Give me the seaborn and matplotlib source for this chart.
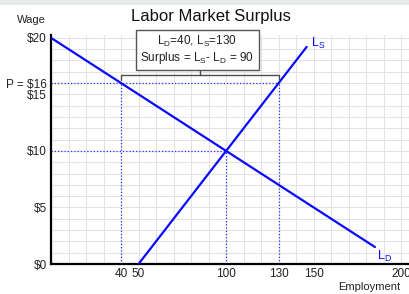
import numpy as np
import pandas as pd
import matplotlib
matplotlib.use("Agg")
import matplotlib.pyplot as plt
from matplotlib.patches import Rectangle
import seaborn as sns

# ================= DATA =================
demand_L = [0, 40, 100, 130, 185]
demand_W = [20, 16, 10, 7, 1.5]
supply_L = [50, 100, 130, 146]
supply_W = [0, 10, 16, 19.2]

price = 16
eq_L, eq_W = 100, 10
qd, qs = 40, 130

xticks = [40, 50, 100, 130, 150, 200]
yticks = [0, 5, 10, 15, 16, 20]
ylabels = [r"\$0", r"\$5", r"\$10", r"\$15", r"P = \$16", r"\$20"]

# ================= STYLE =================
sns.set_theme(style="white")
plt.rcParams["font.family"] = ["Liberation Sans", "DejaVu Sans"]
plt.rcParams["mathtext.default"] = "regular"

BLUE = "#0a0aff"
GRID = "#e3e3e3"

fig = plt.figure(figsize=(4.10, 2.94), dpi=100)
fig.patch.set_facecolor("white")
fig.patches.append(Rectangle((0, 1 - 5 / 294), 1, 5 / 294, transform=fig.transFigure,
                             facecolor="#e6ebe8", edgecolor="none", zorder=0))
ax = fig.add_axes([51 / 410, 30 / 294, 359 / 410, 229 / 294])

# grid
for x in range(10, 210, 10):
    ax.axvline(x, color=GRID, lw=0.8, zorder=0)
for y in range(1, 21):
    ax.axhline(y, color=GRID, lw=0.8, zorder=0)

# dotted guides
dot = dict(ls=(0, (1, 1.6)), color="#3030ff", lw=0.9, zorder=2)
ax.plot([0, qs], [price, price], **dot)
ax.plot([qd, qd], [0, price], **dot)
ax.plot([qs, qs], [0, price], **dot)
ax.plot([0, eq_L], [eq_W, eq_W], **dot)
ax.plot([eq_L, eq_L], [0, eq_W], **dot)

# curves
demand = pd.DataFrame({"L": demand_L, "W": demand_W})
supply = pd.DataFrame({"L": supply_L, "W": supply_W})
sns.lineplot(data=demand, x="L", y="W", color=BLUE, lw=1.6, ax=ax, zorder=3)
sns.lineplot(data=supply, x="L", y="W", color=BLUE, lw=1.6, ax=ax, zorder=3)

ax.text(148.5, 19.5, "$L_S$", color=BLUE, fontsize=9, ha="left", va="center")
ax.text(186, 0.7, "$L_D$", color=BLUE, fontsize=9, ha="left", va="center")

# bracket + box
bc = "#4d4d4d"
yb = 16.7
ax.plot([qd, qd, qs, qs], [16.25, yb, yb, 16.25], color=bc, lw=1, zorder=4, clip_on=False)
mid = (qd + qs) / 2
ax.plot([mid, mid], [yb, 17.4], color=bc, lw=1, zorder=4, clip_on=False)
ax.text(83.5, 18.95, "$L_D$=40, $L_S$=130\nSurplus = $L_S$- $L_D$ = 90",
        ha="center", va="center", fontsize=8.5, color="#222222", linespacing=1.1,
        zorder=5, clip_on=False,
        bbox=dict(boxstyle="square,pad=0.38", facecolor="white", edgecolor="#555555", lw=1))

# axes
ax.set_xlim(0, 205)
ax.set_ylim(0, 20.25)
ax.set_xticks(xticks)
ax.set_xticklabels([str(v) for v in xticks])
ax.set_yticks(yticks)
ax.set_yticklabels(ylabels)
ax.tick_params(length=0, labelsize=8.5, colors="#222222", pad=3)
ax.set_xlabel("")
ax.set_ylabel("")
for s in ["top", "right"]:
    ax.spines[s].set_visible(False)
ax.spines["left"].set_color("black")
ax.spines["bottom"].set_color("black")
ax.spines["left"].set_linewidth(1.6)
ax.spines["bottom"].set_linewidth(1.6)
ax.set_facecolor("white")

fig.text(211 / 410, 1 - 16 / 294, "Labor Market Surplus", ha="center", va="center",
         fontsize=12, color="#111111")
fig.text(31 / 410, 1 - 20 / 294, "Wage", ha="center", va="center", fontsize=8, color="#222222")
fig.text(369 / 410, 1 - 287 / 294, "Employment", ha="center", va="center", fontsize=8, color="#222222")

fig.savefig("out.png", dpi=100)
